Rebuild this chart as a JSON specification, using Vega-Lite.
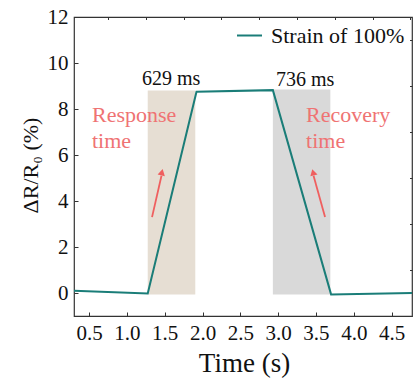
{
  "$schema": "https://vega.github.io/schema/vega-lite/v6.json",
  "width": 338,
  "height": 299,
  "autosize": {"type": "none"},
  "padding": {"left": 74, "top": 17, "right": 2, "bottom": 69},
  "background": "white",
  "config": {
    "font": "Liberation Serif",
    "text": {"font": "Liberation Serif"},
    "view": {"stroke": "#333333", "strokeWidth": 1.2},
    "axis": {
      "domain": false,
      "grid": false,
      "labelColor": "#111111",
      "titleColor": "#111111",
      "tickColor": "#333333",
      "labelFont": "Liberation Serif",
      "titleFont": "Liberation Serif",
      "titleFontWeight": "normal",
      "labelFontSize": 21,
      "titleFontSize": 25
    }
  },
  "datasets": {
    "curve": [
      {"t": 0.3, "v": 0.1, "s": "Strain of 100%"},
      {"t": 1.275, "v": -0.02, "s": "Strain of 100%"},
      {"t": 1.92, "v": 8.75, "s": "Strain of 100%"},
      {"t": 2.93, "v": 8.82, "s": "Strain of 100%"},
      {"t": 3.70, "v": -0.06, "s": "Strain of 100%"},
      {"t": 4.77, "v": 0.0, "s": "Strain of 100%"}
    ],
    "bands": [
      {"x0": 1.275, "x1": 1.904, "y0": -0.06, "y1": 8.8, "kind": "response"},
      {"x0": 2.93, "x1": 3.69, "y0": -0.06, "y1": 8.85, "kind": "recovery"}
    ],
    "times": [
      {"x": 1.2, "y": 9.04, "label": "629 ms"},
      {"x": 2.972, "y": 9.0, "label": "736 ms"}
    ],
    "notes": [
      {"x": 0.538, "y": 7.45, "label": "Response"},
      {"x": 0.538, "y": 6.3, "label": "time"},
      {"x": 3.369, "y": 7.45, "label": "Recovery"},
      {"x": 3.369, "y": 6.3, "label": "time"}
    ],
    "arrows": [
      {"x0": 1.332, "y0": 3.3, "x1": 1.457, "y1": 5.1, "hx": 1.463, "hy": 5.25, "ang": 12.7},
      {"x0": 3.62, "y0": 3.3, "x1": 3.468, "y1": 5.1, "hx": 3.462, "hy": 5.25, "ang": 345}
    ],
    "minorx": [{"t": 0.75}]
  },
  "layer": [
    {
      "data": {"name": "bands"},
      "mark": {"type": "rect"},
      "encoding": {
        "x": {"field": "x0", "type": "quantitative", "scale": {"domain": [0.3, 4.77], "nice": false, "zero": false}, "axis": null},
        "x2": {"field": "x1"},
        "y": {"field": "y0", "type": "quantitative", "scale": {"domain": [-1, 12], "nice": false, "zero": false}, "axis": null},
        "y2": {"field": "y1"},
        "fill": {"field": "kind", "type": "nominal", "scale": {"domain": ["response", "recovery"], "range": ["#E6DED3", "#D9D9D9"]}, "legend": null}
      }
    },
    {
      "data": {"name": "curve"},
      "mark": {"type": "line", "strokeWidth": 2},
      "encoding": {
        "x": {"field": "t", "type": "quantitative", "scale": {"domain": [0.3, 4.77], "nice": false, "zero": false},
          "axis": {"values": [0.5, 1.0, 1.5, 2.0, 2.5, 3.0, 3.5, 4.0, 4.5], "format": ".1f", "tickSize": -4, "labelPadding": 10, "labelFont": "Liberation Serif", "labelFontSize": 21, "title": "Time (s)", "titleFont": "Liberation Serif", "titleFontSize": 27, "titleX": 170, "titleY": 55, "titleBaseline": "alphabetic", "titleAlign": "center"}},
        "y": {"field": "v", "type": "quantitative", "scale": {"domain": [-1, 12], "nice": false, "zero": false},
          "axis": {"values": [0, 2, 4, 6, 8, 10, 12], "tickSize": -4, "labelPadding": 10, "labelFont": "Liberation Serif", "labelFontSize": 21, "title": "ΔR/R₀ (%)", "titleFont": "Liberation Serif", "titleFontSize": 22, "titleX": -44, "titleY": 148, "titleAngle": -90, "titleBaseline": "middle", "titleAlign": "center"}},
        "stroke": {"field": "s", "type": "nominal", "scale": {"range": ["#1A7D78"]},
          "legend": {"title": null, "orient": "none", "legendX": 162, "legendY": 5, "symbolType": "stroke", "symbolSize": 625, "symbolStrokeWidth": 2, "labelFontSize": 22, "labelFont": "Liberation Serif", "labelColor": "#111111", "labelOffset": 8, "padding": 0}}
      }
    },
    {
      "data": {"name": "times"},
      "mark": {"type": "text", "align": "left", "baseline": "alphabetic", "font": "Liberation Serif", "fontSize": 20, "color": "#111111"},
      "encoding": {
        "x": {"field": "x", "type": "quantitative", "scale": {"domain": [0.3, 4.77], "nice": false, "zero": false}, "axis": null},
        "y": {"field": "y", "type": "quantitative", "scale": {"domain": [-1, 12], "nice": false, "zero": false}, "axis": null},
        "text": {"field": "label"}
      }
    },
    {
      "data": {"name": "notes"},
      "mark": {"type": "text", "align": "left", "baseline": "alphabetic", "font": "Liberation Serif", "fontSize": 22, "color": "#EF7373"},
      "encoding": {
        "x": {"field": "x", "type": "quantitative", "scale": {"domain": [0.3, 4.77], "nice": false, "zero": false}, "axis": null},
        "y": {"field": "y", "type": "quantitative", "scale": {"domain": [-1, 12], "nice": false, "zero": false}, "axis": null},
        "text": {"field": "label"}
      }
    },
    {
      "data": {"name": "arrows"},
      "mark": {"type": "rule", "color": "#EF5F5F", "strokeWidth": 1.8},
      "encoding": {
        "x": {"field": "x0", "type": "quantitative", "scale": {"domain": [0.3, 4.77], "nice": false, "zero": false}, "axis": null},
        "y": {"field": "y0", "type": "quantitative", "scale": {"domain": [-1, 12], "nice": false, "zero": false}, "axis": null},
        "x2": {"field": "x1"},
        "y2": {"field": "y1"}
      }
    },
    {
      "data": {"name": "arrows"},
      "mark": {"type": "point", "shape": "triangle-up", "filled": true, "size": 55, "color": "#EF5F5F", "opacity": 1},
      "encoding": {
        "x": {"field": "hx", "type": "quantitative", "scale": {"domain": [0.3, 4.77], "nice": false, "zero": false}, "axis": null},
        "y": {"field": "hy", "type": "quantitative", "scale": {"domain": [-1, 12], "nice": false, "zero": false}, "axis": null},
        "angle": {"field": "ang", "type": "quantitative", "scale": null}
      }
    },
    {
      "data": {"name": "minorx"},
      "mark": {"type": "point", "opacity": 0},
      "encoding": {
        "x": {"field": "t", "type": "quantitative", "scale": {"domain": [0.3, 4.77], "nice": false, "zero": false},
          "axis": {"values": [0.75, 1.25, 1.75, 2.25, 2.75, 3.25, 3.75, 4.25, 4.75], "labels": false, "tickSize": -2.5, "title": null}},
        "y": {"field": "t", "type": "quantitative", "scale": {"domain": [-1, 12], "nice": false, "zero": false},
          "axis": {"values": [-1, 1, 3, 5, 7, 9, 11], "labels": false, "tickSize": -2.5, "title": null}}
      }
    }
  ],
  "resolve": {"axis": {"x": "independent", "y": "independent"}}
}
